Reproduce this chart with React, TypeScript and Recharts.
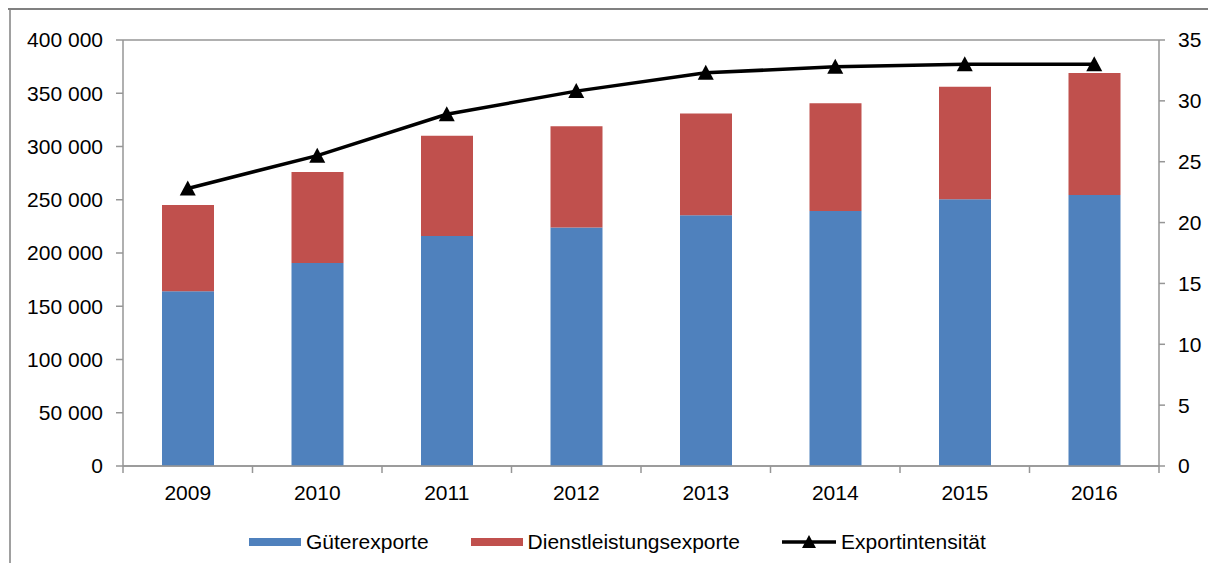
import React from 'react';
import {
  ComposedChart,
  Bar,
  Line,
  XAxis,
  YAxis,
  CartesianGrid,
  Legend,
} from 'recharts';

const years = ['2009', '2010', '2011', '2012', '2013', '2014', '2015', '2016'];
const gueterExporte = [164000, 190500, 216000, 224000, 235500, 239500, 250500, 254500];
const dienstExporte = [81000, 85500, 94000, 95000, 95500, 101000, 105500, 114500];
const exportIntensitaet = [22.8, 25.5, 28.9, 30.8, 32.3, 32.8, 33.0, 33.0];
const leftTicks = [0, 50000, 100000, 150000, 200000, 250000, 300000, 350000, 400000];
const rightTicks = [0, 5, 10, 15, 20, 25, 30, 35];

const data = years.map((year, i) => ({
  year,
  gueter: gueterExporte[i],
  dienst: dienstExporte[i],
  intens: exportIntensitaet[i],
}));

const W = 1216;
const H = 571;
const MARGIN = { top: 40, right: 7, bottom: 65, left: 23 };
const LEFT_AXIS_W = 100;
const RIGHT_AXIS_W = 50;
const X_AXIS_H = 40;
const PLOT_LEFT = MARGIN.left + LEFT_AXIS_W;
const PLOT_RIGHT = W - MARGIN.right - RIGHT_AXIS_W;
const PLOT_BOTTOM = H - MARGIN.bottom - X_AXIS_H;
const HALF_BAND = (PLOT_RIGHT - PLOT_LEFT) / years.length / 2;

const BLUE = '#4f81bd';
const RED = '#c0504d';
const GRID = '#969696';
const FONT = '"Liberation Sans", Arial, sans-serif';

const fmtThousands = (v: number) =>
  String(v).replace(/\B(?=(\d{3})+(?!\d))/g, ' ');

function Triangle(props: any) {
  const { cx, cy } = props;
  if (cx == null || cy == null) return null;
  return (
    <polygon
      points={`${cx},${cy - 8} ${cx - 8},${cy + 7} ${cx + 8},${cy + 7}`}
      fill="#000"
    />
  );
}

function YearTick(props: any) {
  const { x, payload, index, visibleTicksCount } = props;
  return (
    <g>
      <line
        x1={x - HALF_BAND}
        x2={x - HALF_BAND}
        y1={PLOT_BOTTOM}
        y2={PLOT_BOTTOM + 7}
        stroke={GRID}
        strokeWidth={1.5}
      />
      {index === visibleTicksCount - 1 && (
        <line
          x1={x + HALF_BAND}
          x2={x + HALF_BAND}
          y1={PLOT_BOTTOM}
          y2={PLOT_BOTTOM + 7}
          stroke={GRID}
          strokeWidth={1.5}
        />
      )}
      <text
        x={x}
        y={PLOT_BOTTOM + 34}
        textAnchor="middle"
        fontFamily={FONT}
        fontSize={21}
        fill="#000"
      >
        {payload.value}
      </text>
    </g>
  );
}

function LegendContent() {
  const item = { display: 'flex', alignItems: 'center' } as const;
  const label = { marginLeft: 5, fontSize: 21, fontFamily: FONT, color: '#000' };
  return (
    <div style={{ display: 'flex', alignItems: 'center', paddingLeft: 249 }}>
      <div style={item}>
        <div style={{ width: 52, height: 8, background: BLUE }} />
        <span style={label}>Güterexporte</span>
      </div>
      <div style={{ ...item, marginLeft: 42 }}>
        <div style={{ width: 52, height: 8, background: RED }} />
        <span style={label}>Dienstleistungsexporte</span>
      </div>
      <div style={{ ...item, marginLeft: 42 }}>
        <svg width={54} height={16}>
          <line x1={0} x2={54} y1={8} y2={8} stroke="#000" strokeWidth={3.5} />
          <polygon points="27,1 20,14 34,14" fill="#000" />
        </svg>
        <span style={label}>Exportintensität</span>
      </div>
    </div>
  );
}

export default function App() {
  return (
    <div
      style={{
        position: 'relative',
        width: W,
        height: H,
        margin: -8,
        background: '#fff',
        overflow: 'hidden',
      }}
    >
      <div style={{ position: 'absolute', left: 0, top: 0, width: W, height: 8, background: BLUE }} />
      <div style={{ position: 'absolute', left: 4, top: 8, width: W, height: 2, background: '#808080' }} />
      <div style={{ position: 'absolute', left: 9, top: 10, width: 2, height: H, background: '#a0a0a0' }} />
      <div style={{ position: 'absolute', left: 0, top: 0 }}>
        <ComposedChart width={W} height={H} data={data} margin={MARGIN} barSize={52}>
          <CartesianGrid vertical={false} stroke={GRID} strokeWidth={1.5} />
          <XAxis
            dataKey="year"
            height={X_AXIS_H}
            axisLine={{ stroke: GRID, strokeWidth: 1.5 }}
            tickLine={false}
            tick={<YearTick />}
            interval={0}
          />
          <YAxis
            yAxisId="left"
            width={LEFT_AXIS_W}
            domain={[0, 400000]}
            ticks={leftTicks}
            tickFormatter={fmtThousands}
            axisLine={{ stroke: GRID, strokeWidth: 1.5 }}
            tickLine={{ stroke: GRID, strokeWidth: 1.5 }}
            tickSize={7}
            tickMargin={13}
            tick={{ fill: '#000', fontSize: 21, fontFamily: FONT }}
            interval={0}
          />
          <YAxis
            yAxisId="right"
            orientation="right"
            width={RIGHT_AXIS_W}
            domain={[0, 35]}
            ticks={rightTicks}
            axisLine={{ stroke: GRID, strokeWidth: 1.5 }}
            tickLine={{ stroke: GRID, strokeWidth: 1.5 }}
            tickSize={6}
            tickMargin={13}
            tick={{ fill: '#000', fontSize: 21, fontFamily: FONT }}
            interval={0}
          />
          <Bar yAxisId="left" dataKey="gueter" stackId="a" fill={BLUE} isAnimationActive={false} />
          <Bar yAxisId="left" dataKey="dienst" stackId="a" fill={RED} isAnimationActive={false} />
          <Line
            yAxisId="right"
            dataKey="intens"
            type="linear"
            stroke="#000"
            strokeWidth={3.5}
            dot={<Triangle />}
            activeDot={false}
            isAnimationActive={false}
          />
          <Legend
            verticalAlign="middle"
            align="center"
            content={<LegendContent />}
            wrapperStyle={{ top: 530, left: 0, width: W }}
          />
        </ComposedChart>
      </div>
    </div>
  );
}
